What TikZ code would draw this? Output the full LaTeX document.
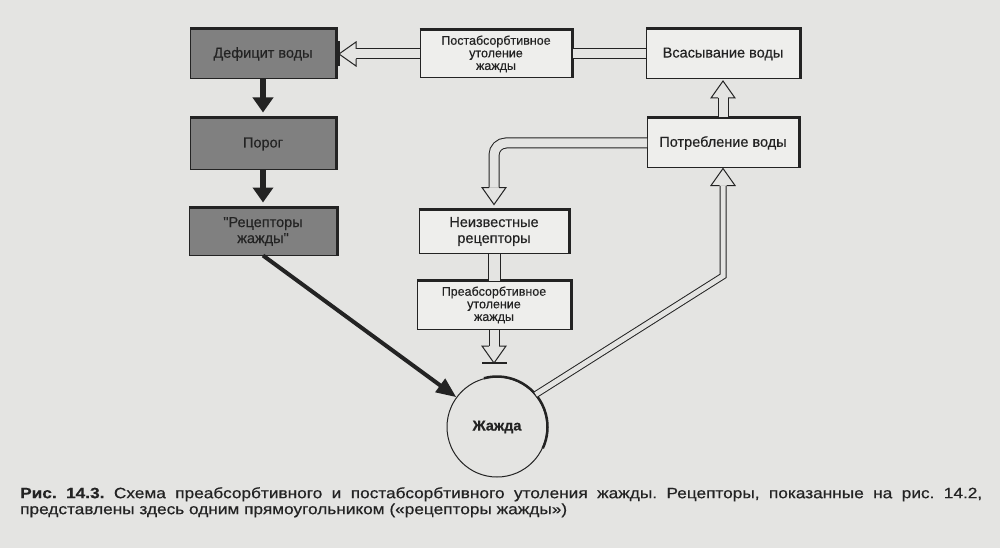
\documentclass[tikz,border=0pt]{standalone}
\usepackage{fontspec}
\setmainfont{Liberation Sans}
\newfontfamily\kastenschrift[FakeBold=0.4]{Liberation Sans}
\newfontfamily\unterschrift[FakeBold=0.5, FakeStretch=1.15]{Liberation Sans}
\usetikzlibrary{arrows.meta}

\definecolor{papier}{RGB}{228,228,226}
\definecolor{hell}{RGB}{238,238,236}
\definecolor{dunkel}{RGB}{128,128,128}
\definecolor{tinte}{RGB}{35,35,35}

\tikzset{
    kasten/.style={draw=tinte, line width=1pt, fill=hell, inner sep=0pt, align=center, text=tinte},
    dkasten/.style={kasten, fill=dunkel},
    gross/.style={font=\kastenschrift\fontsize{14.5}{16}\selectfont},
    klein/.style={font=\kastenschrift\fontsize{12.5}{12.6}\selectfont},
    dickpfeil/.style={draw=tinte, line width=6pt, -{Triangle[width=20pt,length=15pt]}, shorten >=5pt},
    hohl/.style={draw=tinte, line width=1pt, double=papier, double distance=9pt},
    spitze/.style={draw=tinte, line width=1pt, fill=papier, line join=miter}
}

% hollow arrow head: [half shaft width]{tip}{direction}
\newcommand{\hohlspitze}[3][5]{%
    \filldraw[spitze, shift={#2}, rotate=#3] (-17,-#1) -- (-17,-12) -- (0,0) -- (-17,12) -- (-17,#1);}
% hollow arrow head with a stop bar
\newcommand{\sperrspitze}[2]{%
    \hohlspitze{#1}{#2}
    \draw[tinte, line width=2.2pt, shift={#1}, rotate=#2] (0,-12.5) -- (0,12.5);}

\begin{document}
\begin{tikzpicture}[x=1pt, y=-1pt]
    \fill[papier] (0,0) rectangle (1000,548);
    \useasboundingbox (0,0) rectangle (1000,548);

    % Left column
    \node[dkasten, gross, minimum width=145pt, minimum height=49pt] (defizit) at (263,54) {Дефицит воды};
    \node[dkasten, gross, minimum width=145pt, minimum height=52pt] (porog) at (263,144) {Порог};
    \node[dkasten, gross, minimum width=147pt, minimum height=47pt] (rezept) at (263,231.5) {"Рецепторы\\жажды"};

    % Middle and right boxes
    \node[kasten, klein, minimum width=152pt, minimum height=47pt] (postabs) at (496,54) {Постабсорбтивное\\утоление\\жажды};
    \node[kasten, gross, minimum width=153pt, minimum height=49pt] (vsas) at (723,54) {Всасывание воды};
    \node[kasten, gross, minimum width=151pt, minimum height=50pt] (potr) at (723,143) {Потребление воды};
    \node[kasten, gross, minimum width=150pt, minimum height=43pt] (neizv) at (494,231.5) {Неизвестные\\рецепторы};
    \node[kasten, klein, minimum width=153pt, minimum height=48pt] (preabs) at (494,305) {Преабсорбтивное\\утоление\\жажды};
    \node[kasten, circle, fill=papier, gross, minimum size=100pt] (zhazhda) at (497,427) {\bfseries Жажда};

    % Heavy top and right edges
    \foreach \k in {defizit, porog, rezept, postabs, vsas, potr, neizv, preabs}
        \draw[tinte, line width=3pt] (\k.north west) -- (\k.north east) -- (\k.south east);
    \begin{scope}[y=1pt]
        \draw[tinte, line width=2.5pt] (zhazhda.105) arc[start angle=105, end angle=-25, radius=50.5];
    \end{scope}

    % Solid arrows
    \draw[dickpfeil] (defizit) -- (porog);
    \draw[dickpfeil] (porog) -- (rezept);
    \draw[dickpfeil, line width=4pt, shorten >=0pt, -{Triangle[width=16pt,length=20pt]}] (rezept.south) -- (zhazhda);

    % Hollow arrows
    \coordinate (sperre1) at (339,54);
    \coordinate (sperre2) at (494,363);
    \coordinate (knick) at (723,276);

    \draw[hohl] (vsas) -- (postabs);
    \draw[hohl, shorten >=17pt] (postabs) -- (sperre1);
    \sperrspitze{(sperre1)}{180}

    \draw[hohl, shorten >=17pt] (potr) -- ([yshift=-2pt]vsas.south);
    \hohlspitze{([yshift=-2pt]vsas.south)}{90}

    \draw[hohl, shorten >=17pt, rounded corners=12pt] (potr.west) -| ([yshift=5pt]neizv.north);
    \hohlspitze{([yshift=5pt]neizv.north)}{-90}

    \draw[hohl, double distance=11pt] (neizv) -- (preabs);
    \draw[hohl, shorten >=17pt] (preabs) -- (sperre2);
    \sperrspitze{(sperre2)}{-90}

    \draw[hohl, double distance=5pt, shorten >=17pt] (zhazhda.40) -- (knick) -- (potr.south);
    \hohlspitze[3.5]{(potr.south)}{90}

    % Caption
    \node[anchor=north west, text width=962pt, align=justify, inner sep=0pt, text=tinte,
          font=\unterschrift\fontsize{15}{16}\selectfont\frenchspacing] (legende) at (20,487)
        {\textbf{Рис. 14.3.} Схема преабсорбтивного и постабсорбтивного утоления жажды. Рецепторы, показанные на рис.~14.2,\linebreak
         представлены здесь одним прямоугольником («рецепторы жажды»)};
\end{tikzpicture}
\end{document}
